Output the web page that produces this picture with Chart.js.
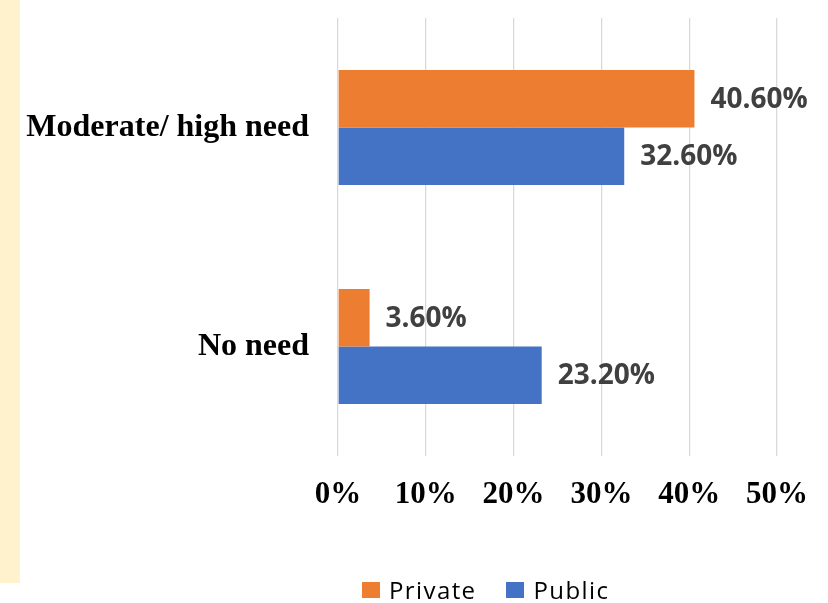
<!DOCTYPE html>
<html>
<head>
<meta charset="utf-8">
<script src="https://cdn.jsdelivr.net/npm/chart.js@4/dist/chart.umd.min.js"></script>
<style>
    html, body { margin: 0; padding: 0; background: #ffffff; }
    #wrap { position: relative; width: 828px; height: 603px; overflow: hidden; }
    #strip { position: absolute; left: 0; top: 0; width: 20px; height: 583px; background: #FFF2CC; }
    #chart { position: absolute; left: 0; top: 0; }
    #legend { position: absolute; top: 573px; left: 362px; display: flex; align-items: center;
              font-family: "Open Sans", sans-serif; font-size: 24px; letter-spacing: 1.4px; color: #000; }
    #legend .item { display: flex; align-items: center; margin-right: 30px; }
    #legend .box { width: 18px; height: 16px; margin-right: 9px; }
</style>
</head>
<body>
<div id="wrap">
    <div id="strip"></div>
    <canvas id="chart" width="828" height="603"></canvas>
    <div id="legend"></div>
</div>
<script>
// Chart data
const categories = ['Moderate/ high need', 'No need'];
const seriesNames = ['Private', 'Public'];
const privateValues = [40.6, 3.6];
const publicValues = [32.6, 23.2];
const tickValues = [0, 10, 20, 30, 40, 50];

const colors = ['#ED7D31', '#4472C4'];

// Draw value labels to the right of each bar
const valueLabels = {
    id: 'valueLabels',
    afterDatasetsDraw(chart) {
        const ctx = chart.ctx;
        ctx.save();
        ctx.font = 'bold 28px "Open Sans", sans-serif';
        ctx.fillStyle = '#404040';
        ctx.textAlign = 'left';
        ctx.textBaseline = 'middle';
        chart.data.datasets.forEach((ds, i) => {
            chart.getDatasetMeta(i).data.forEach((bar, j) => {
                ctx.fillText(ds.data[j].toFixed(2) + '%', bar.x + 16, bar.y + 1);
            });
        });
        ctx.restore();
    }
};

const ctx = document.getElementById('chart').getContext('2d');

new Chart(ctx, {
    type: 'bar',
    data: {
        labels: categories,
        datasets: [{
            label: seriesNames[0],
            data: privateValues,
            backgroundColor: colors[0],
            categoryPercentage: 0.525,
            barPercentage: 1.0
        }, {
            label: seriesNames[1],
            data: publicValues,
            backgroundColor: colors[1],
            categoryPercentage: 0.525,
            barPercentage: 1.0
        }]
    },
    options: {
        indexAxis: 'y',
        responsive: false,
        animation: false,
        layout: {
            padding: { top: 18, right: 16, bottom: 0, left: 0 }
        },
        scales: {
            x: {
                min: 0,
                max: 50,
                afterBuildTicks: function(scale) {
                    scale.ticks = tickValues.map(v => ({ value: v }));
                },
                afterFit: function(scale) {
                    scale.height = 147;
                },
                grid: {
                    color: '#D9D9D9',
                    lineWidth: 1.3,
                    drawTicks: false
                },
                border: { display: false },
                ticks: {
                    padding: 20,
                    color: '#000000',
                    font: { family: '"Liberation Serif", "Times New Roman", serif', size: 31, weight: 'bold' },
                    callback: function(value) {
                        return value + '%';
                    }
                }
            },
            y: {
                afterFit: function(scale) {
                    scale.width = 338;
                    scale.paddingTop = 0;
                    scale.paddingBottom = 0;
                },
                grid: { display: false, drawTicks: false },
                border: { display: false },
                ticks: {
                    padding: 29,
                    color: '#000000',
                    font: { family: '"Liberation Serif", "Times New Roman", serif', size: 32, weight: 'bold' }
                }
            }
        },
        plugins: {
            legend: { display: false },
            tooltip: { enabled: false }
        }
    },
    plugins: [valueLabels]
});

// HTML legend
const legendEl = document.getElementById('legend');
seriesNames.forEach((name, i) => {
    const item = document.createElement('div');
    item.className = 'item';
    const box = document.createElement('span');
    box.className = 'box';
    box.style.background = colors[i];
    const text = document.createElement('span');
    text.textContent = name;
    item.appendChild(box);
    item.appendChild(text);
    legendEl.appendChild(item);
});
</script>
</body>
</html>
